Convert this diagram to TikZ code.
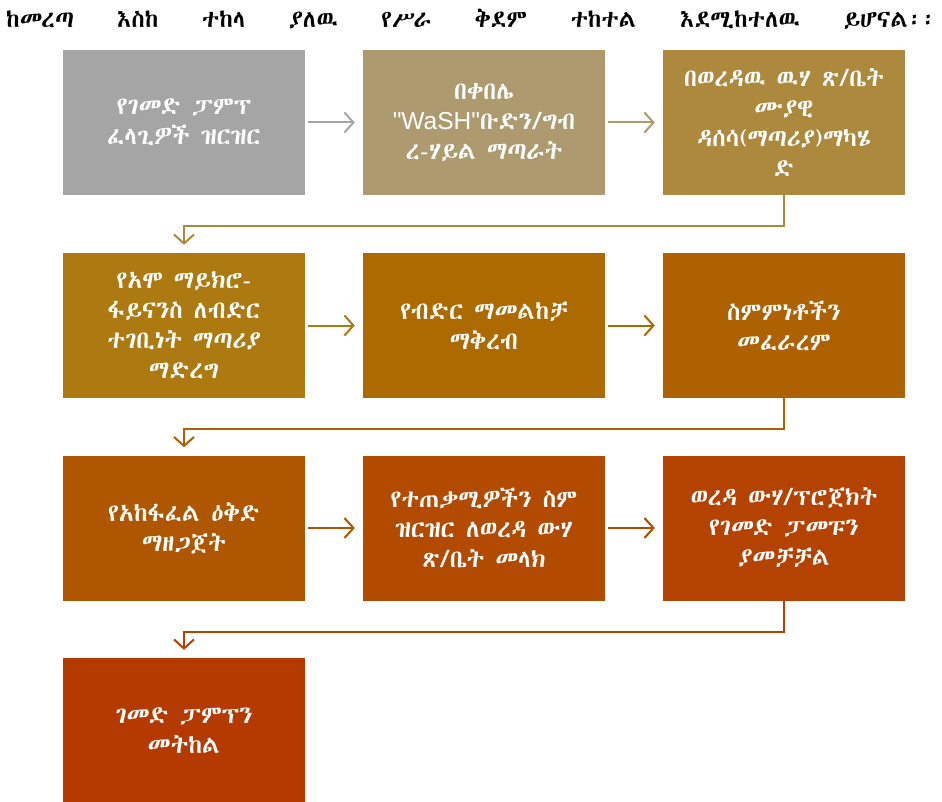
\documentclass[tikz,border=0pt]{standalone}
\usepackage{fontspec}
\usetikzlibrary{arrows.meta}
\newfontfamily\eth{Abyssinica SIL}
\newfontfamily\lat{Liberation Sans}
\definecolor{cA}{HTML}{A5A5A5}
\definecolor{cB}{HTML}{AE9A6F}
\definecolor{cC}{HTML}{AD893E}
\definecolor{cD}{HTML}{AC7A10}
\definecolor{cE}{HTML}{AC6A00}
\definecolor{cF}{HTML}{AE6100}
\definecolor{cG}{HTML}{AF5700}
\definecolor{cH}{HTML}{B24B00}
\definecolor{cI}{HTML}{B44200}
\definecolor{cJ}{HTML}{B53A00}
\begin{document}
\begin{tikzpicture}[x=1pt,y=-1pt,
  box/.style={minimum width=242pt,minimum height=145pt,inner sep=0pt,text=white,align=center,
    font=\eth\fontsize{24.5}{30}\selectfont},
  harr/.style={line width=2pt,shorten <=3pt,shorten >=8pt,-{Straight Barb[length=9pt,width=20pt,line width=2pt]}},
  earr/.style={line width=2pt,shorten >=8pt,-{Straight Barb[length=9pt,width=20pt,line width=2pt]}}]
\useasboundingbox (0,0) rectangle (942,802);
\node[anchor=south west,inner sep=0pt,font=\eth\fontsize{24}{28}\selectfont] (hdr) at (6,30)
  {\hbox to 930pt{ከመረጣ\hfill እስከ\hfill ተከላ\hfill ያለዉ\hfill የሥራ\hfill ቅደም\hfill ተከተል\hfill እደሚከተለዉ\hfill ይሆናል፡፡}};
\node[box,fill=cA] (b1) at (184,122.5) {የገመድ ፓምፕ\\ፈላጊዎች ዝርዝር};
\node[box,fill=cB] (b2) at (484,122.5) {በቀበሌ\\{\lat "WaSH"}ቡድን/ግብ\\ረ-ሃይል ማጣራት};
\node[box,fill=cC] (b3) at (784,122.5) {በወረዳዉ ዉሃ ጽ/ቤት\\ሙያዊ\\ዳሰሳ(ማጣሪያ)ማካሄ\\ድ};
\node[box,fill=cD] (b4) at (184,325.5) {የአሞ ማይክሮ-\\ፋይናንስ ለብድር\\ተገቢነት ማጣሪያ\\ማድረግ};
\node[box,fill=cE] (b5) at (484,325.5) {የብድር ማመልከቻ\\ማቅረብ};
\node[box,fill=cF] (b6) at (784,325.5) {ስምምነቶችን\\መፈራረም};
\node[box,fill=cG] (b7) at (184,528) {የአከፋፈል ዕቅድ\\ማዘጋጀት};
\node[box,fill=cH] (b8) at (484,528) {የተጠቃሚዎችን ስም\\ዝርዝር ለወረዳ ውሃ\\ጽ/ቤት መላክ};
\node[box,fill=cI] (b9) at (784,528) {ወረዳ ውሃ/ፕሮጀክት\\የገመድ ፓመፑን\\ያመቻቻል};
\node[box,fill=cJ] (b10) at (184,730.5) {ገመድ ፓምፕን\\መትከል};
\draw[harr,cA] (b1) -- (b2);
\draw[harr,cB] (b2) -- (b3);
\draw[earr,cC] (b3.south) -- ++(0,31) -| (b4.north);
\draw[harr,cD] (b4) -- (b5);
\draw[harr,cE] (b5) -- (b6);
\draw[earr,cF] (b6.south) -- ++(0,31) -| (b7.north);
\draw[harr,cG] (b7) -- (b8);
\draw[harr,cH] (b8) -- (b9);
\draw[earr,cI] (b9.south) -- ++(0,31) -| (b10.north);
\end{tikzpicture}
\end{document}
